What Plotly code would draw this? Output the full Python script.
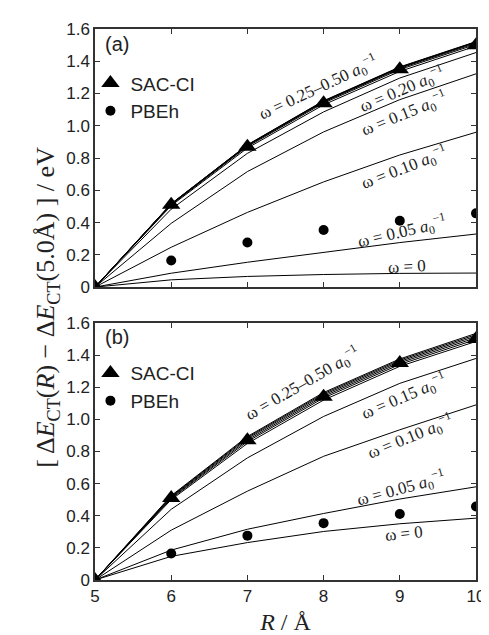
import plotly.graph_objects as go

R = [5, 6, 7, 8, 9, 10]
sac_ci = [0.0, 0.51, 0.87, 1.14, 1.35, 1.50]
pbeh = [0.0, 0.165, 0.276, 0.354, 0.411, 0.457]

# panel (a) LC-omega curves
a_w000 = [0.0, 0.045, 0.066, 0.078, 0.085, 0.087]
a_w005 = [0.0, 0.086, 0.154, 0.216, 0.276, 0.329]
a_w010 = [0.0, 0.247, 0.463, 0.652, 0.819, 0.960]
a_w015 = [0.0, 0.395, 0.716, 0.962, 1.162, 1.322]
a_w020 = [0.0, 0.483, 0.829, 1.086, 1.296, 1.454]
a_w025 = [0.0, 0.505, 0.862, 1.130, 1.337, 1.494]
a_w030 = [0.0, 0.510, 0.871, 1.141, 1.349, 1.505]
a_w035 = [0.0, 0.513, 0.876, 1.147, 1.356, 1.512]
a_w040 = [0.0, 0.515, 0.879, 1.151, 1.360, 1.517]
a_w045 = [0.0, 0.516, 0.881, 1.153, 1.363, 1.520]
a_w050 = [0.0, 0.517, 0.882, 1.155, 1.365, 1.522]

# panel (b) curves
b_w000 = [0.0, 0.147, 0.233, 0.302, 0.350, 0.385]
b_w005 = [0.0, 0.186, 0.316, 0.414, 0.504, 0.580]
b_w010 = [0.0, 0.310, 0.553, 0.770, 0.935, 1.090]
b_w015 = [0.0, 0.440, 0.760, 1.018, 1.224, 1.379]
b_w025 = [0.0, 0.500, 0.850, 1.120, 1.330, 1.485]
b_w030 = [0.0, 0.507, 0.862, 1.133, 1.342, 1.497]
b_w035 = [0.0, 0.512, 0.871, 1.143, 1.352, 1.508]
b_w040 = [0.0, 0.517, 0.880, 1.152, 1.361, 1.518]
b_w045 = [0.0, 0.521, 0.887, 1.160, 1.369, 1.527]
b_w050 = [0.0, 0.525, 0.893, 1.167, 1.376, 1.535]

a_curves = [a_w000, a_w005, a_w010, a_w015, a_w020, a_w025, a_w030, a_w035, a_w040, a_w045, a_w050]
b_curves = [b_w000, b_w005, b_w010, b_w015, b_w025, b_w030, b_w035, b_w040, b_w045, b_w050]

y_ticks = [0, 0.2, 0.4, 0.6, 0.8, 1.0, 1.2, 1.4, 1.6]
y_ticktext = ["0", "0.2", "0.4", "0.6", "0.8", "1.0", "1.2", "1.4", "1.6"]
x_ticks = [5, 6, 7, 8, 9, 10]

A0 = "<i>a</i><sub>0</sub><sup>\u22121</sup>"
a_labels = [
    ("\u03c9 = 0.25\u20130.50 " + A0, 7.93, 1.235, -25),
    ("\u03c9 = 0.20 " + A0, 9.03, 1.225, -23),
    ("\u03c9 = 0.15 " + A0, 9.06, 1.075, -22),
    ("\u03c9 = 0.10 " + A0, 9.06, 0.741, -21),
    ("\u03c9 = 0.05 " + A0, 9.03, 0.342, -13),
    ("\u03c9 = 0", 9.09, 0.130, -3),
]
b_labels = [
    ("\u03c9 = 0.25\u20130.50 " + A0, 7.72, 1.225, -30),
    ("\u03c9 = 0.15 " + A0, 9.05, 1.14, -23),
    ("\u03c9 = 0.10 " + A0, 9.14, 0.895, -22),
    ("\u03c9 = 0.05 " + A0, 9.01, 0.567, -15),
    ("\u03c9 = 0", 9.06, 0.287, -6),
]

SERIF = "Liberation Serif"
SANS = "Liberation Sans"

fig = go.Figure()

for curves, xa, ya in [(a_curves, "x", "y"), (b_curves, "x2", "y2")]:
    for c in curves:
        fig.add_trace(go.Scatter(x=R, y=c, mode="lines", xaxis=xa, yaxis=ya,
                                 line=dict(color="black", width=1), showlegend=False,
                                 hoverinfo="skip"))

for xa, ya, lg in [("x", "y", "legend"), ("x2", "y2", "legend2")]:
    fig.add_trace(go.Scatter(x=R, y=pbeh, mode="markers", xaxis=xa, yaxis=ya,
                             marker=dict(symbol="circle", size=10, color="black"),
                             name="PBEh", legend=lg, legendrank=2))
    fig.add_trace(go.Scatter(x=R, y=sac_ci, mode="markers", xaxis=xa, yaxis=ya,
                             marker=dict(symbol="triangle-up", size=16, color="black"),
                             name="SAC-CI", legend=lg, legendrank=1))

axis_common = dict(showline=True, linecolor="#333", linewidth=1.5, mirror="ticks",
                   ticks="inside", ticklen=5, tickwidth=1, tickcolor="#333",
                   showgrid=False, zeroline=False,
                   tickfont=dict(family=SANS, size=17, color="#222"))

annotations = []
for (txt, x, y, ang) in a_labels:
    annotations.append(dict(text=txt, x=x, y=y, xref="x", yref="y", textangle=ang,
                            showarrow=False, font=dict(family=SERIF, size=17, color="#222")))
for (txt, x, y, ang) in b_labels:
    annotations.append(dict(text=txt, x=x, y=y, xref="x2", yref="y2", textangle=ang,
                            showarrow=False, font=dict(family=SERIF, size=17, color="#222")))
annotations.append(dict(text="(a)", x=0.02, y=0.997, xref="paper", yref="paper",
                        xanchor="left", yanchor="top", showarrow=False,
                        font=dict(family=SANS, size=20, color="#222")))
annotations.append(dict(text="(b)", x=0.02, y=0.464, xref="paper", yref="paper",
                        xanchor="left", yanchor="top", showarrow=False,
                        font=dict(family=SANS, size=20, color="#222")))
annotations.append(dict(
    text="[ \u0394<i>E</i><sub>CT</sub>(<i>R</i>) \u2212 \u0394<i>E</i><sub>CT</sub>(5.0\u00c5) ] / eV",
    x=-0.172, y=0.495, xref="paper", yref="paper", textangle=-90, showarrow=False,
    font=dict(family=SERIF, size=26, color="#222")))

fig.update_layout(
    width=489, height=635,
    margin=dict(l=87, r=12, t=21, b=61),
    paper_bgcolor="white", plot_bgcolor="white",
    xaxis=dict(domain=[0, 1], range=[5, 10], tickvals=x_ticks, showticklabels=False,
               anchor="y", **axis_common),
    yaxis=dict(domain=[0.5316, 1], range=[0, 1.6], tickvals=y_ticks, ticktext=y_ticktext,
               anchor="x", **axis_common),
    xaxis2=dict(domain=[0, 1], range=[5, 10], tickvals=x_ticks, anchor="y2",
                title=dict(text="<i>R</i> / \u00c5", font=dict(family=SERIF, size=24, color="#222"),
                           standoff=8),
                **axis_common),
    yaxis2=dict(domain=[0, 0.4665], range=[0, 1.6], tickvals=y_ticks, ticktext=y_ticktext,
                anchor="x2", **axis_common),
    legend=dict(x=-0.012, y=0.936, xanchor="left", yanchor="top", bgcolor="rgba(0,0,0,0)",
                font=dict(family=SANS, size=19, color="#222"), itemwidth=30,
                traceorder="normal"),
    legend2=dict(x=-0.012, y=0.41, xanchor="left", yanchor="top", bgcolor="rgba(0,0,0,0)",
                 font=dict(family=SANS, size=19, color="#222"), itemwidth=30,
                 traceorder="normal"),
    annotations=annotations,
    showlegend=True,
)

fig.write_html("out.html")
